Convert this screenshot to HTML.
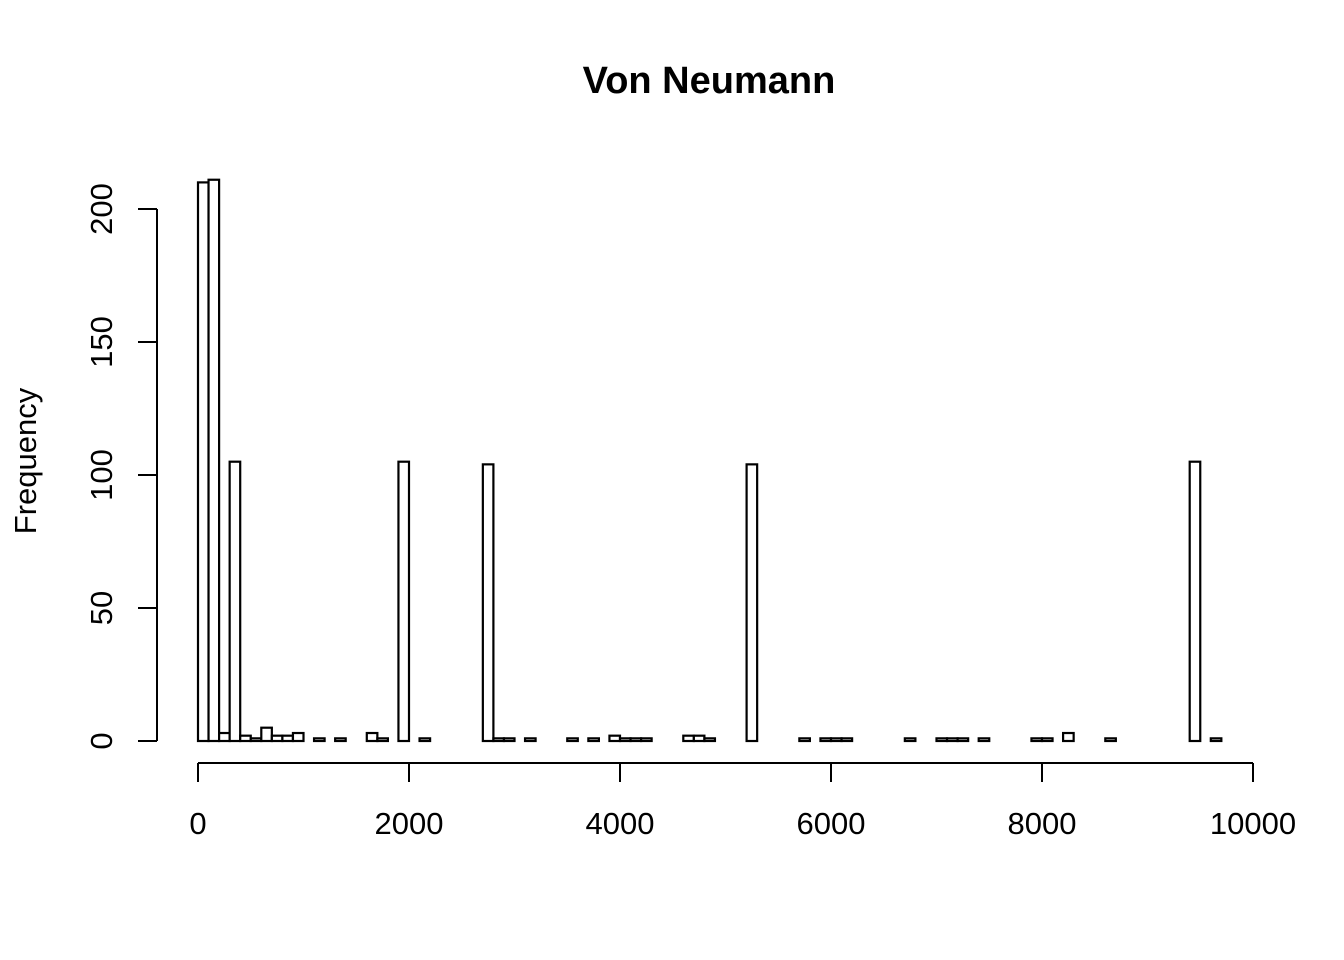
<!DOCTYPE html>
<html><head><meta charset="utf-8"><style>body{margin:0;background:#fff}svg{display:block}text{font-family:"Liberation Sans",Arial,sans-serif;fill:#000}</style></head>
<body>
<svg id="c" width="1344" height="960">
<text x="709" y="93" font-size="38" font-weight="bold" text-anchor="middle">Von Neumann</text>
<text transform="translate(36,461) rotate(-90)" font-size="31" text-anchor="middle">Frequency</text>
<g id="bars"></g>
<g id="axes"></g>
</svg>
<script>
const binWidth = 100;
const counts = [210,211,3,105,2,1,5,2,2,3,0,1,0,1,0,0,3,1,0,105,0,1,0,0,0,0,0,104,1,1,0,1,0,0,0,1,0,1,0,2,1,1,1,0,0,0,2,2,1,0,0,0,104,0,0,0,0,1,0,1,1,1,0,0,0,0,0,1,0,0,1,1,1,0,1,0,0,0,0,1,1,0,3,0,0,0,1,0,0,0,0,0,0,0,105,0,1];
const xTicks = [0,2000,4000,6000,8000,10000];
const yTicks = [0,50,100,150,200];
const NS='http://www.w3.org/2000/svg';
const sx = v => 198 + v*(1253-198)/10000;
const sy = v => 741 - v*(741-209)/200;
const bars=document.getElementById('bars'), axes=document.getElementById('axes');
function mk(tag,attrs,parent){const e=document.createElementNS(NS,tag);for(const k in attrs)e.setAttribute(k,attrs[k]);parent.appendChild(e);return e;}
counts.forEach((c,i)=>{
  const x0=sx(i*binWidth), x1=sx((i+1)*binWidth);
  const r=mk('rect',{x:x0,y:sy(c),width:x1-x0,height:sy(0)-sy(c),fill:'#fff',stroke:'#000','stroke-width':2.2},bars);
  
  
});
mk('line',{x1:sx(0),x2:sx(10000),y1:763,y2:763,stroke:'#000','stroke-width':2},axes);
xTicks.forEach(t=>{
  mk('line',{x1:sx(t),x2:sx(t),y1:763,y2:782,stroke:'#000','stroke-width':2},axes);
  const tx=mk('text',{x:sx(t),y:834,'font-size':31,'text-anchor':'middle'},axes);
  tx.textContent=t;
  
  
});
mk('line',{x1:157,x2:157,y1:sy(0),y2:sy(200),stroke:'#000','stroke-width':2},axes);
yTicks.forEach(t=>{
  mk('line',{x1:138,x2:157,y1:sy(t),y2:sy(t),stroke:'#000','stroke-width':2},axes);
  const tx=mk('text',{transform:`translate(112,${sy(t)}) rotate(-90)`,'font-size':31,'text-anchor':'middle'},axes);
  tx.textContent=t;
  
  
});
</script>
</body></html>
